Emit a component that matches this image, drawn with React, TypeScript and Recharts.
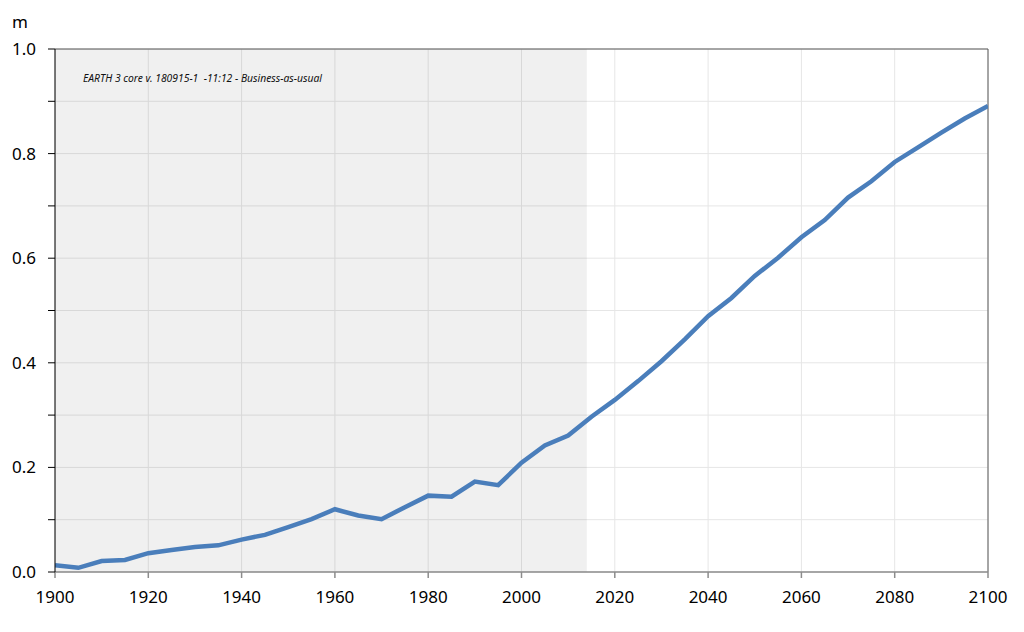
import React from 'react';
import { LineChart, Line, XAxis, YAxis, CartesianGrid, ReferenceArea, ReferenceLine } from 'recharts';

const years = [1900, 1905, 1910, 1915, 1920, 1925, 1930, 1935, 1940, 1945, 1950, 1955, 1960, 1965, 1970, 1975, 1980, 1985, 1990, 1995, 2000, 2005, 2010, 2015, 2020, 2025, 2030, 2035, 2040, 2045, 2050, 2055, 2060, 2065, 2070, 2075, 2080, 2085, 2090, 2095, 2100];
const seaLevel = [0.013, 0.008, 0.021, 0.023, 0.036, 0.042, 0.048, 0.051, 0.062, 0.071, 0.086, 0.101, 0.120, 0.108, 0.101, 0.124, 0.146, 0.144, 0.173, 0.166, 0.209, 0.242, 0.261, 0.297, 0.329, 0.365, 0.403, 0.445, 0.489, 0.524, 0.566, 0.601, 0.640, 0.673, 0.716, 0.747, 0.784, 0.812, 0.840, 0.867, 0.891];
const xTicks = [1900, 1920, 1940, 1960, 1980, 2000, 2020, 2040, 2060, 2080, 2100];
const yTicks = [0, 0.1, 0.2, 0.3, 0.4, 0.5, 0.6, 0.7, 0.8, 0.9, 1.0];
const historyEnd = 2014;
const unitLabel = 'm';
const annotation = 'EARTH 3 core v. 180915-1  -11:12 - Business-as-usual';

const data = years.map((y, i) => ({ year: y, value: seaLevel[i] }));

const FONT = "'Noto Sans', 'DejaVu Sans', sans-serif";

export default function App() {
  return (
    <div style={{ position: 'absolute', left: 0, top: 0 }}>
      <LineChart width={1024} height={632} data={data} margin={{ top: 49, right: 36, bottom: 30, left: 0 }}>
        <CartesianGrid stroke="#e6e6e6" strokeWidth={1} />
        <ReferenceArea x1={1900} x2={historyEnd} y1={0} y2={1} fill="#000" fillOpacity={0.06} stroke="none" ifOverflow="hidden" />
        <XAxis
          dataKey="year"
          type="number"
          domain={[1900, 2100]}
          ticks={xTicks}
          interval={0}
          height={30}
          stroke="#8c8c8c"
          strokeWidth={1.5}
          tickSize={6}
          tickMargin={13}
          tick={{ fill: '#000', fontSize: 17, fontFamily: FONT }}
          allowDataOverflow
        />
        <YAxis
          type="number"
          domain={[0, 1]}
          ticks={yTicks}
          interval={0}
          width={55}
          stroke="#000"
          tickSize={7}
          tickMargin={12}
          tickFormatter={(v: number) => (Math.round(v * 10) % 2 === 0 ? v.toFixed(1) : '')}
          tick={{ fill: '#000', fontSize: 17, fontFamily: FONT }}
          label={{
            content: () => (
              <g>
                <text x={12} y={28} fontSize={17} fontFamily={FONT} fill="#000">{unitLabel}</text>
                <text x={83} y={82} fontSize={10.5} fontStyle="italic" fontFamily={FONT} fill="#111" textLength={239} lengthAdjust="spacingAndGlyphs" style={{ whiteSpace: 'pre' }}>{annotation}</text>
              </g>
            ),
          }}
        />
        <ReferenceLine y={1} stroke="#595959" strokeWidth={1} ifOverflow="extendDomain" />
        <ReferenceLine x={2100} stroke="#595959" strokeWidth={1} />
        <Line type="linear" dataKey="value" stroke="#4a7ebb" strokeWidth={4.5} dot={false} isAnimationActive={false} />
      </LineChart>
    </div>
  );
}
